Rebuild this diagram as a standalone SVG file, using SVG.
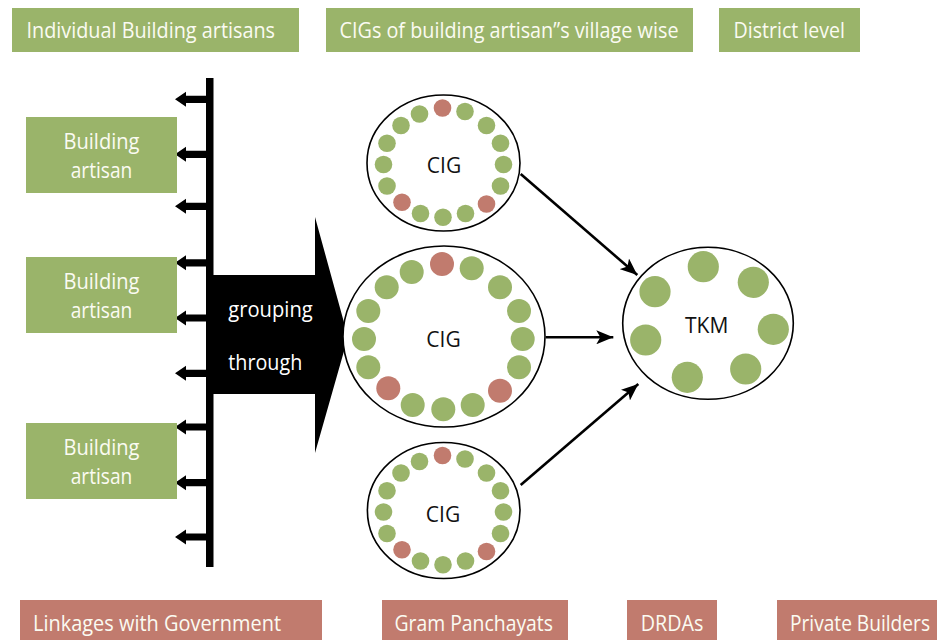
<svg xmlns="http://www.w3.org/2000/svg" xmlns:xlink="http://www.w3.org/1999/xlink" width="937" height="640" viewBox="0 0 937 640">
<style>
.gbox{fill:#9ab46a}
.rbox{fill:#c17b6e}
.lt{font-family:"Open Sans","Liberation Sans",sans-serif;font-size:21px;fill:#fbfbf2}
.bt{font-family:"Open Sans","Liberation Sans",sans-serif;font-size:21px;fill:#ffffff}
.dk{font-family:"Open Sans","Liberation Sans",sans-serif;font-size:21px;fill:#111}
.ell{fill:#fff;stroke:#000;stroke-width:1.6}
.g{fill:#9ab46a}
.r{fill:#c17b6e}
.con{stroke:#000;stroke-width:2.6;fill:none}
</style>
<defs>
<marker id="ah" markerUnits="userSpaceOnUse" markerWidth="18" markerHeight="14" refX="17" refY="7" orient="auto">
<path d="M0,0 L17,7 L0,14 L4,7 z" fill="#000"/>
</marker>
<path id="sa" d="M175,0 L186,-7.5 L186,-3.6 L207,-3.6 L207,3.6 L186,3.6 L186,7.5 z" fill="#000"/>
<g id="ring">
<circle class="r" cx="-1" cy="-55" r="8.8"/>
<circle class="g" cx="21.5" cy="-51.5" r="8.8"/>
<circle class="g" cx="-24" cy="-49" r="8.8"/>
<circle class="g" cx="-42.5" cy="-37.5" r="8.8"/>
<circle class="g" cx="43" cy="-37.5" r="8.8"/>
<circle class="g" cx="-56.5" cy="-19.7" r="8.8"/>
<circle class="g" cx="57" cy="-19.7" r="8.8"/>
<circle class="g" cx="-60" cy="1.5" r="8.8"/>
<circle class="g" cx="60" cy="1.5" r="8.8"/>
<circle class="g" cx="-56.5" cy="23" r="8.8"/>
<circle class="g" cx="57" cy="23" r="8.8"/>
<circle class="r" cx="-41.5" cy="39.3" r="8.8"/>
<circle class="r" cx="43" cy="41" r="8.8"/>
<circle class="g" cx="-23" cy="50.5" r="8.8"/>
<circle class="g" cx="-0.5" cy="54.3" r="8.8"/>
<circle class="g" cx="22" cy="50.5" r="8.8"/>
</g>
</defs>

<g id="hdr-individual">
<rect class="gbox" x="12" y="8" width="287" height="44"/>
<text class="lt" x="26.5" y="38" textLength="248.5" lengthAdjust="spacingAndGlyphs">Individual Building artisans</text>
</g>
<g id="hdr-cigs">
<rect class="gbox" x="326" y="8" width="367" height="44"/>
<text class="lt" x="339.5" y="38" textLength="339" lengthAdjust="spacingAndGlyphs">CIGs of building artisan”s village wise</text>
</g>
<g id="hdr-district">
<rect class="gbox" x="719" y="8" width="141" height="44"/>
<text class="lt" x="733.5" y="38" textLength="111.5" lengthAdjust="spacingAndGlyphs">District level</text>
</g>

<g id="spine">
<rect x="206" y="78" width="7.5" height="489" fill="#000"/>
<use xlink:href="#sa" y="99.3"/>
<use xlink:href="#sa" y="154.3"/>
<use xlink:href="#sa" y="206.3"/>
<use xlink:href="#sa" y="262.8"/>
<use xlink:href="#sa" y="318"/>
<use xlink:href="#sa" y="373.3"/>
<use xlink:href="#sa" y="427"/>
<use xlink:href="#sa" y="482.7"/>
<use xlink:href="#sa" y="537"/>
</g>

<g id="artisan1">
<rect class="gbox" x="26" y="117" width="151" height="76"/>
<text class="lt" x="101.5" y="149" text-anchor="middle" textLength="76" lengthAdjust="spacingAndGlyphs">Building</text>
<text class="lt" x="101.5" y="177.7" text-anchor="middle" textLength="61.6" lengthAdjust="spacingAndGlyphs">artisan</text>
</g>
<g id="artisan2">
<rect class="gbox" x="26" y="257" width="151" height="76"/>
<text class="lt" x="101.5" y="289.3" text-anchor="middle" textLength="76" lengthAdjust="spacingAndGlyphs">Building</text>
<text class="lt" x="101.5" y="318" text-anchor="middle" textLength="61.6" lengthAdjust="spacingAndGlyphs">artisan</text>
</g>
<g id="artisan3">
<rect class="gbox" x="26" y="423" width="151" height="76"/>
<text class="lt" x="101.5" y="455" text-anchor="middle" textLength="76" lengthAdjust="spacingAndGlyphs">Building</text>
<text class="lt" x="101.5" y="483.5" text-anchor="middle" textLength="61.6" lengthAdjust="spacingAndGlyphs">artisan</text>
</g>

<g id="grouping-arrow">
<path d="M213,275 L315,275 L315,217 L348,337 L315,453 L315,394 L213,394 z" fill="#000"/>
<text class="bt" x="228.3" y="317" textLength="84.4" lengthAdjust="spacingAndGlyphs">grouping</text>
<text class="bt" x="228.3" y="370" textLength="74" lengthAdjust="spacingAndGlyphs">through</text>
</g>

<g id="cig-top">
<ellipse class="ell" cx="443.5" cy="163" rx="76.5" ry="68"/>
<use xlink:href="#ring" x="443.5" y="163"/>
<text class="dk" x="444" y="172.5" text-anchor="middle">CIG</text>
</g>

<g id="cig-middle">
<ellipse class="ell" cx="444" cy="336.5" rx="101" ry="90.5"/>
<circle class="r" cx="442" cy="264" r="12"/>
<circle class="g" cx="471.7" cy="268.3" r="12"/>
<circle class="g" cx="411.7" cy="272" r="12"/>
<circle class="g" cx="386.7" cy="287.3" r="12"/>
<circle class="g" cx="500" cy="287.3" r="12"/>
<circle class="g" cx="368.3" cy="311" r="12"/>
<circle class="g" cx="519" cy="311" r="12"/>
<circle class="g" cx="364" cy="339" r="12"/>
<circle class="g" cx="522.7" cy="339" r="12"/>
<circle class="g" cx="368.3" cy="367.3" r="12"/>
<circle class="g" cx="519" cy="367.3" r="12"/>
<circle class="r" cx="388.3" cy="388.3" r="12"/>
<circle class="r" cx="500" cy="390.7" r="12"/>
<circle class="g" cx="412.7" cy="405" r="12"/>
<circle class="g" cx="443.3" cy="409.3" r="12"/>
<circle class="g" cx="472.7" cy="405" r="12"/>
<text class="dk" x="443.5" y="347" text-anchor="middle">CIG</text>
</g>

<g id="cig-bottom">
<ellipse class="ell" cx="443.7" cy="510.5" rx="76.3" ry="68"/>
<use xlink:href="#ring" x="443.5" y="510.5"/>
<text class="dk" x="443" y="521.5" text-anchor="middle">CIG</text>
</g>

<g id="tkm">
<ellipse class="ell" cx="708" cy="323.3" rx="85.3" ry="76"/>
<circle class="g" cx="703.3" cy="266.7" r="15.6"/>
<circle class="g" cx="753.3" cy="282.3" r="15.6"/>
<circle class="g" cx="655" cy="291.7" r="15.6"/>
<circle class="g" cx="773.3" cy="329.3" r="15.6"/>
<circle class="g" cx="645.7" cy="340" r="15.6"/>
<circle class="g" cx="745.7" cy="369" r="15.6"/>
<circle class="g" cx="687.3" cy="377.3" r="15.6"/>
<text class="dk" x="706.7" y="333" text-anchor="middle">TKM</text>
</g>

<g id="connectors">
<line class="con" x1="520.7" y1="174" x2="637.3" y2="275" marker-end="url(#ah)"/>
<line class="con" x1="545.7" y1="337.3" x2="613.3" y2="337.3" marker-end="url(#ah)"/>
<line class="con" x1="520.7" y1="485" x2="638.3" y2="384" marker-end="url(#ah)"/>
</g>

<g id="ftr-linkages">
<rect class="rbox" x="20" y="600" width="302" height="40"/>
<text class="lt" x="33" y="631" textLength="248" lengthAdjust="spacingAndGlyphs">Linkages with Government</text>
</g>
<g id="ftr-gram">
<rect class="rbox" x="382" y="600" width="186" height="40"/>
<text class="lt" x="394.5" y="631" textLength="158.5" lengthAdjust="spacingAndGlyphs">Gram Panchayats</text>
</g>
<g id="ftr-drda">
<rect class="rbox" x="627" y="600" width="90" height="40"/>
<text class="lt" x="640.8" y="631" textLength="62.7" lengthAdjust="spacingAndGlyphs">DRDAs</text>
</g>
<g id="ftr-private">
<rect class="rbox" x="777" y="600" width="160" height="40"/>
<text class="lt" x="790" y="631" textLength="140" lengthAdjust="spacingAndGlyphs">Private Builders</text>
</g>
</svg>
